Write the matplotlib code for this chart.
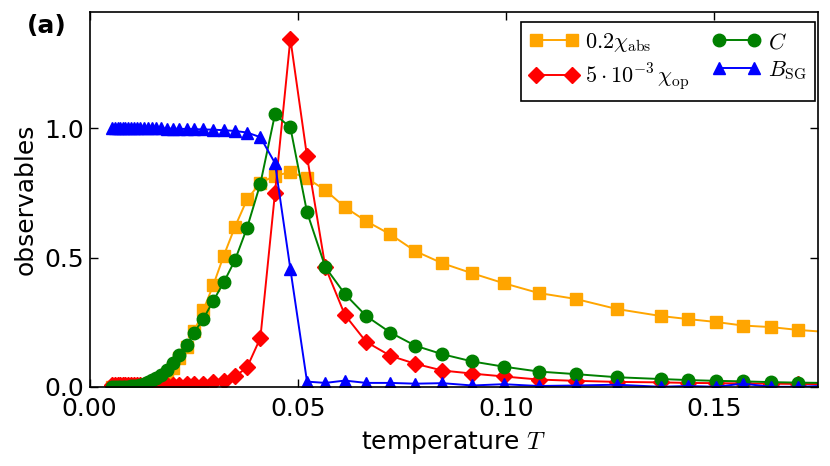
import matplotlib
matplotlib.use("Agg")
import matplotlib.pyplot as plt

# temperature grid (shared by all four series)
T = [0.0054, 0.0061, 0.0067, 0.0073, 0.0079, 0.0085, 0.0092, 0.0099, 0.0106,
     0.0114, 0.0121, 0.0130, 0.0139, 0.0149, 0.0160, 0.0172, 0.0186, 0.0200,
     0.0215, 0.0233, 0.0251, 0.0273, 0.0297, 0.0322, 0.0349, 0.0378, 0.0410,
     0.0445, 0.0482, 0.0522, 0.0566, 0.0613, 0.0664, 0.0722, 0.0782, 0.0847,
     0.0919, 0.0994, 0.1078, 0.1167, 0.1266, 0.1371, 0.1437, 0.1503, 0.1569,
     0.1636, 0.1701, 0.1770]

chi_abs = [0.000, 0.000, 0.000, 0.000, 0.000, 0.001, 0.001, 0.002, 0.002,
           0.003, 0.004, 0.006, 0.009, 0.014, 0.021, 0.032, 0.048, 0.072,
           0.111, 0.153, 0.214, 0.297, 0.394, 0.507, 0.619, 0.725, 0.790,
           0.816, 0.831, 0.807, 0.761, 0.695, 0.641, 0.590, 0.525, 0.478,
           0.439, 0.401, 0.363, 0.340, 0.301, 0.274, 0.262, 0.251, 0.237,
           0.231, 0.220, 0.212]

chi_op = [0.005, 0.005, 0.005, 0.005, 0.005, 0.005, 0.005, 0.005, 0.005,
          0.005, 0.005, 0.006, 0.006, 0.006, 0.006, 0.007, 0.007, 0.008,
          0.008, 0.009, 0.010, 0.012, 0.017, 0.024, 0.040, 0.075, 0.189,
          0.749, 1.347, 0.892, 0.463, 0.278, 0.174, 0.120, 0.089, 0.063,
          0.051, 0.040, 0.028, 0.023, 0.019, 0.017, 0.015, 0.014, 0.013,
          0.012, 0.011, 0.010]

heat_c = [0.000, 0.000, 0.000, 0.000, 0.000, 0.001, 0.001, 0.002, 0.003,
          0.004, 0.007, 0.011, 0.017, 0.025, 0.035, 0.046, 0.066, 0.092,
          0.124, 0.162, 0.210, 0.263, 0.333, 0.404, 0.490, 0.615, 0.786,
          1.054, 1.004, 0.676, 0.463, 0.359, 0.274, 0.210, 0.159, 0.126,
          0.098, 0.078, 0.059, 0.049, 0.037, 0.030, 0.026, 0.023, 0.021,
          0.018, 0.016, 0.015]

b_sg = [1.000, 1.000, 1.000, 1.000, 1.000, 1.000, 1.000, 1.000, 1.000,
        1.000, 1.000, 1.000, 1.000, 1.000, 1.000, 1.000, 0.999, 0.999,
        0.998, 0.998, 0.997, 0.996, 0.995, 0.993, 0.990, 0.984, 0.966,
        0.866, 0.456, 0.020, 0.015, 0.024, 0.015, 0.015, 0.012, 0.014,
        0.005, 0.010, 0.003, 0.005, 0.008, 0.000, 0.003, 0.000, 0.012,
        0.000, 0.000, 0.004]

LABELS = [r"$0.2\chi_{\rm abs}$", r"$5\cdot10^{-3}\,\chi_{\rm op}$",
          r"$C$", r"$B_{\rm SG}$"]

plt.rcParams["mathtext.fontset"] = "cm"
plt.rcParams["font.family"] = "DejaVu Sans"

fig = plt.figure(figsize=(8.3, 4.66), dpi=100)
ax = fig.add_axes([0.108, 0.170, 0.878, 0.804])

lw = 1.4
ax.plot(T, chi_abs, "-s", color="orange", mec="orange", ms=9, lw=lw, label=LABELS[0])
ax.plot(T, chi_op, "-D", color="red", mec="red", ms=8, lw=lw, label=LABELS[1])
ax.plot(T, heat_c, "-o", color="green", mec="green", ms=9, lw=lw, label=LABELS[2])
ax.plot(T, b_sg, "-^", color="blue", mec="blue", ms=9, lw=lw, label=LABELS[3])

ax.set_xlim(0, 0.175)
ax.set_ylim(0, 1.45)
ax.set_xticks([0.0, 0.05, 0.10, 0.15])
ax.set_xticklabels(["0.00", "0.05", "0.10", "0.15"])
ax.set_yticks([0.0, 0.5, 1.0])
ax.set_yticklabels(["0.0", "0.5", "1.0"])
ax.tick_params(direction="in", top=True, right=True, length=6, width=1,
               labelsize=18)
ax.tick_params(axis="x", pad=7)
ax.tick_params(axis="y", pad=4)
for sp in ax.spines.values():
    sp.set_linewidth(1.2)

ax.set_xlabel(r"temperature $T$", fontsize=18, labelpad=6)
ax.set_ylabel("observables", fontsize=18, labelpad=5)

leg = ax.legend(loc="upper right", bbox_to_anchor=(0.996, 0.973),
                borderaxespad=0, ncol=2, fontsize=16, numpoints=2,
                fancybox=False, edgecolor="black", framealpha=1,
                handlelength=2.2, columnspacing=1.0, handletextpad=0.3,
                labelspacing=0.3)
leg.get_frame().set_linewidth(1.2)

fig.text(0.032, 0.929, "(a)", fontsize=18, fontweight="bold", va="baseline")

fig.savefig("out.png", dpi=100)
